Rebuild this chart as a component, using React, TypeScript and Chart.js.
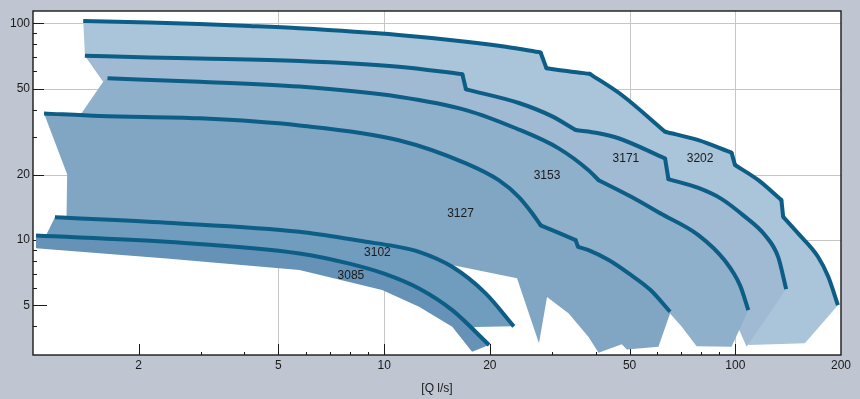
import React, { useEffect, useRef } from 'react';
import { Chart, registerables } from 'chart.js';

Chart.register(...registerables);

type P = [number, number];

// ---- axes ----
const X_MIN = 1;
const X_MAX = 200;
const Y_MIN = 2.95;
const Y_MAX = 114;
const X_TICKS = [2, 5, 10, 20, 50, 100, 200];
const Y_TICKS = [5, 10, 20, 50, 100];
const X_MINOR = [3, 4, 6, 7, 8, 9, 30, 40, 60, 70, 80, 90];
const Y_MINOR = [4, 6, 7, 8, 9, 30, 40, 60, 70, 80, 90];
const X_GRID = [5, 10, 50, 100];
const Y_GRID = [10, 20, 50, 100];
const X_TITLE = '[Q l/s]';

// ---- pump families (front to back) ----
const PUMPS = ['3085', '3102', '3127', '3153', '3171', '3202'];

// upper (max) curves: [Q l/s, H]
const TOP_3085: P[] = [[1.02, 10.49], [2.4, 9.82], [5.74, 8.68], [7.96, 7.79], [10.0, 7.0], [12.57, 5.98], [15.63, 4.75], [19.9, 3.28]];
const TOP_3102: P[] = [[1.155, 12.73], [2.4, 12.02], [5.74, 10.92], [8.87, 9.82], [10.68, 9.38], [12.57, 8.83], [15.63, 7.53], [19.45, 5.68], [23.4, 4.0]];
const TOP_3127: P[] = [[1.075, 38.4], [1.55, 37.35], [2.98, 36.45], [5.74, 33.8], [11.0, 28.9], [17.1, 22.6], [21.2, 18.9], [24.2, 15.8], [26.4, 13.3], [27.9, 11.7], [35.1, 10.0], [35.65, 9.31], [38.2, 8.99], [43.6, 8.09], [49.7, 7.02], [57.35, 5.88], [65.2, 4.67]];
const TOP_3153: P[] = [[1.63, 55.75], [2.98, 53.8], [5.74, 51.1], [11.0, 45.85], [17.1, 39.8], [23.7, 32.8], [31.4, 26.5], [38.2, 21.0], [40.8, 18.9], [50.7, 15.8], [61.1, 13.3], [78.5, 10.55], [93.6, 8.0], [103.3, 6.15], [108.9, 4.75]];
const TOP_3171: P[] = [[1.405, 70.9], [2.15, 69.5], [2.98, 68.8], [5.74, 67.0], [11.0, 63.1], [16.7, 58.3], [17.1, 49.6], [24.2, 42.9], [30.0, 37.3], [35.1, 32.2], [40.8, 31.1], [46.5, 29.5], [63.1, 23.8], [64.5, 19.1], [78.5, 17.4], [91.3, 15.5], [105.4, 13.0], [121.7, 10.5], [132.5, 8.35], [139.6, 5.94]];
const TOP_3202: P[] = [[1.39, 102.5], [2.15, 100.9], [2.98, 99.3], [4.14, 97.2], [5.74, 94.8], [11.0, 88.3], [17.1, 82.3], [22.2, 78.0], [27.9, 73.4], [29.0, 62.0], [34.2, 59.8], [38.5, 58.5], [47.5, 46.7], [63.1, 31.6], [78.5, 28.9], [97.6, 25.3], [99.8, 22.2], [116.3, 18.9], [135.3, 15.3], [136.9, 12.8], [151, 10.74], [172, 8.38], [184, 6.77], [196, 5.01]];

// indices of sharp corners / steps on each upper curve
const CORNERS_3085: number[] = [];
const CORNERS_3102: number[] = [];
const CORNERS_3127 = [9, 10, 11];
const CORNERS_3153 = [8, 10];
const CORNERS_3171 = [5, 6, 9, 12, 13];
const CORNERS_3202 = [8, 9, 11, 13, 15, 16, 18, 19];

// remaining outline of each range (from the end of the upper curve back to its start)
const EDGE_3085: P[] = [[17.8, 3.05], [15.63, 3.98], [12.57, 4.92], [9.87, 5.88], [5.74, 7.27], [2.4, 8.23], [1.02, 9.16]];
const EDGE_3102: P[] = [[18.2, 3.97], [16.9, 3.84], [11.0, 5.88], [5.74, 7.92], [2.4, 8.99], [1.118, 9.69], [1.082, 10.0], [1.092, 10.6]];
const EDGE_3127: P[] = [[65.2, 4.59], [60.4, 3.22], [49.1, 3.13], [47.5, 3.31], [40.8, 3.02], [38.2, 3.57], [33.55, 4.59], [29.1, 5.47], [27.6, 3.34], [23.9, 6.66], [15.6, 7.67], [12.57, 8.26], [5.74, 10.43], [2.15, 11.36], [1.246, 12.1], [1.246, 13.04], [1.251, 20.1]];
const EDGE_3153: P[] = [[97.6, 3.22], [77.6, 3.24], [70.4, 3.98], [65.2, 4.59], [56.6, 5.29], [40.8, 6.9], [31.4, 7.92], [25.8, 10.0], [15.3, 15.3], [5.74, 23.4], [1.77, 30.5], [1.405, 36.6], [1.373, 38.4], [1.584, 53.8]];
const EDGE_3171: P[] = [[107.7, 3.22], [102.7, 3.84], [89.5, 5.29], [56.6, 8.09], [31.4, 15.3], [11.0, 32.2], [2.15, 46.7], [1.655, 50.3], [1.584, 53.8]];
const EDGE_3202: P[] = [[157.8, 3.34], [108.9, 3.28], [116.3, 5.29], [102, 8.99], [40.8, 23.4], [11.0, 49.2], [2.15, 60.9], [1.55, 64.2], [1.405, 72.2]];

// label anchor for each family [Q, H]
const LABEL_AT: P[] = [[8.04, 6.82], [9.57, 8.78], [16.5, 13.28], [29.1, 19.74], [48.8, 23.8], [79.4, 23.8]];

const TOPS = [TOP_3085, TOP_3102, TOP_3127, TOP_3153, TOP_3171, TOP_3202];
const CORNERS = [CORNERS_3085, CORNERS_3102, CORNERS_3127, CORNERS_3153, CORNERS_3171, CORNERS_3202];
const EDGES = [EDGE_3085, EDGE_3102, EDGE_3127, EDGE_3153, EDGE_3171, EDGE_3202];

// ---- styles ----
const FILLS = ['#6592b6', '#709cbe', '#80a6c4', '#8fb0cb', '#9fbad2', '#aac4da'];
const LINE_COLOR = '#0d5e86';
const PAGE_BG = '#bfc6d1';
const GRID_COLOR = '#c6c6c6';
const INK = '#1a1a1a';
const FONT = "'Liberation Sans', Arial, Helvetica, sans-serif";
const LINE_W = 4;

const toPts = (arr: P[]) => arr.map(([x, y]) => ({ x, y }));

function pieces(top: P[], corners: number[]): P[][] {
  const cuts = [0, ...corners, top.length - 1];
  const out: P[][] = [];
  for (let i = 0; i < cuts.length - 1; i++) {
    if (cuts[i + 1] > cuts[i]) out.push(top.slice(cuts[i], cuts[i + 1] + 1));
  }
  return out;
}

const decor = {
  id: 'decor',
  beforeDraw(chart: any) {
    const { ctx, chartArea: a } = chart;
    ctx.save();
    ctx.fillStyle = '#ffffff';
    ctx.fillRect(a.left, a.top, a.right - a.left, a.bottom - a.top);
    ctx.restore();
  },
  beforeDatasetsDraw(chart: any) {
    const { ctx, chartArea: a } = chart;
    const xs = chart.scales.x;
    const ys = chart.scales.y;
    ctx.save();
    ctx.lineWidth = 1;
    ctx.strokeStyle = GRID_COLOR;
    ctx.beginPath();
    X_GRID.forEach((v) => {
      const p = Math.round(xs.getPixelForValue(v)) + 0.5;
      ctx.moveTo(p, a.top);
      ctx.lineTo(p, a.bottom);
    });
    Y_GRID.forEach((v) => {
      const p = Math.round(ys.getPixelForValue(v)) + 0.5;
      ctx.moveTo(a.left, p);
      ctx.lineTo(a.right, p);
    });
    ctx.stroke();

    ctx.strokeStyle = INK;
    ctx.beginPath();
    const xt = (v: number, len: number) => {
      const p = Math.round(xs.getPixelForValue(v)) + 0.5;
      ctx.moveTo(p, a.bottom);
      ctx.lineTo(p, a.bottom - len);
    };
    const yt = (v: number, len: number) => {
      const p = Math.round(ys.getPixelForValue(v)) + 0.5;
      ctx.moveTo(a.left, p);
      ctx.lineTo(a.left + len, p);
    };
    X_TICKS.forEach((v) => { if (v < X_MAX) xt(v, 11); });
    X_MINOR.forEach((v) => xt(v, 3));
    Y_TICKS.forEach((v) => yt(v, Y_GRID.includes(v) ? 11 : 14));
    Y_MINOR.forEach((v) => yt(v, 4));
    ctx.stroke();
    ctx.restore();
  },
  afterDatasetsDraw(chart: any) {
    const { ctx, chartArea: a } = chart;
    const xs = chart.scales.x;
    const ys = chart.scales.y;
    ctx.save();
    ctx.strokeStyle = INK;
    ctx.lineWidth = 1.4;
    ctx.strokeRect(a.left, a.top, a.right - a.left, a.bottom - a.top);
    ctx.fillStyle = INK;
    ctx.font = `12px ${FONT}`;
    ctx.textAlign = 'center';
    ctx.textBaseline = 'middle';
    PUMPS.forEach((name, i) => {
      const [qx, hy] = LABEL_AT[i];
      ctx.fillText(name, xs.getPixelForValue(qx), ys.getPixelForValue(hy));
    });
    ctx.restore();
  },
};

export default function App() {
  const ref = useRef<HTMLCanvasElement | null>(null);

  useEffect(() => {
    if (!ref.current) return;
    Chart.defaults.font.family = FONT;
    Chart.defaults.font.size = 12;
    Chart.defaults.color = INK;

    const lineSets: any[] = [];
    TOPS.forEach((top, i) => {
      pieces(top, CORNERS[i]).forEach((piece) => {
        lineSets.push({
          label: PUMPS[i],
          data: toPts(piece),
          borderColor: LINE_COLOR,
          borderWidth: LINE_W,
          borderCapStyle: 'butt',
          borderJoinStyle: 'miter',
          cubicInterpolationMode: 'monotone',
          pointRadius: 0,
          fill: false,
        });
      });
      if (CORNERS[i].length) {
        lineSets.push({
          label: PUMPS[i] + ' joints',
          data: toPts(CORNERS[i].map((k) => top[k])),
          showLine: false,
          pointRadius: LINE_W / 2,
          pointBorderWidth: 0,
          pointBackgroundColor: LINE_COLOR,
          pointBorderColor: LINE_COLOR,
          fill: false,
        });
      }
    });
    const fillSets = TOPS.map((top, i) => ({
      label: PUMPS[i] + ' range',
      data: toPts([...top, ...EDGES[i]]),
      backgroundColor: FILLS[i],
      borderColor: 'rgba(0,0,0,0)',
      borderWidth: 0,
      pointRadius: 0,
      tension: 0,
      fill: 'shape',
    }));

    const chart = new Chart(ref.current, {
      type: 'line',
      data: { datasets: [...lineSets, ...fillSets] as any },
      options: {
        responsive: false,
        animation: false,
        events: [],
        layout: { padding: { left: 0, right: 19, top: 11, bottom: 0 } },
        plugins: {
          legend: { display: false },
          tooltip: { enabled: false },
        },
        scales: {
          x: {
            type: 'logarithmic',
            min: X_MIN,
            max: X_MAX,
            grid: { display: false, drawTicks: false },
            border: { display: false },
            afterBuildTicks: (s: any) => { s.ticks = X_TICKS.map((v) => ({ value: v })); },
            afterFit: (s: any) => { s.height = 44; },
            ticks: {
              autoSkip: false,
              maxRotation: 0,
              padding: 3,
              color: INK,
              font: { size: 12, family: FONT },
              callback: (v: any) => String(v),
            },
            title: {
              display: true,
              text: X_TITLE,
              color: INK,
              font: { size: 12, family: FONT },
              padding: { top: 0, bottom: 3 },
            },
          },
          y: {
            type: 'logarithmic',
            min: Y_MIN,
            max: Y_MAX,
            grid: { display: false, drawTicks: false },
            border: { display: false },
            afterBuildTicks: (s: any) => { s.ticks = Y_TICKS.map((v) => ({ value: v })); },
            afterFit: (s: any) => { s.width = 33; },
            ticks: {
              autoSkip: false,
              padding: 3,
              color: INK,
              font: { size: 12, family: FONT },
              callback: (v: any) => String(v),
            },
          },
        },
      } as any,
      plugins: [decor as any],
    });
    return () => chart.destroy();
  }, []);

  return (
    <div style={{ position: 'absolute', left: 0, top: 0, width: 860, height: 399, background: PAGE_BG }}>
      <canvas ref={ref} width={860} height={399} style={{ display: 'block' }} />
    </div>
  );
}
